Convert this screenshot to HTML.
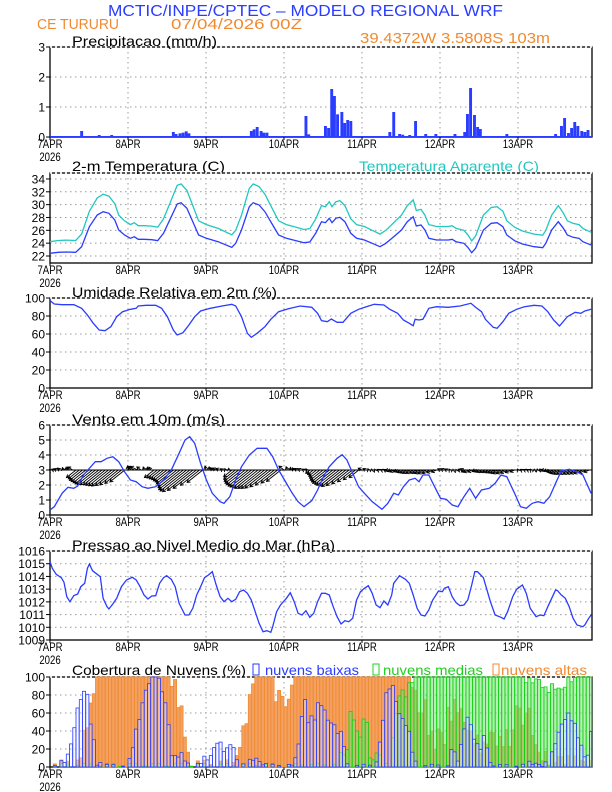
<!DOCTYPE html>
<html><head><meta charset="utf-8"><style>
body{margin:0;background:#fff;}
svg{display:block;font-family:"Liberation Sans",sans-serif;}
</style></head><body>
<svg id="s" width="612" height="792" viewBox="0 0 612 792" xmlns="http://www.w3.org/2000/svg">
<text x="108" y="16" font-size="16" fill="#2a3cff" textLength="395" lengthAdjust="spacingAndGlyphs">MCTIC/INPE/CPTEC – MODELO REGIONAL WRF</text>
<text x="37" y="29" font-size="15" fill="#f08a30" textLength="82" lengthAdjust="spacingAndGlyphs">CE TURURU</text>
<text x="171" y="29" font-size="15" fill="#f08a30" textLength="131" lengthAdjust="spacingAndGlyphs">07/04/2026 00Z</text>
<text x="360" y="43" font-size="15" fill="#f08a30" textLength="190" lengthAdjust="spacingAndGlyphs">39.4372W 3.5808S 103m</text>
<text x="72" y="46" font-size="14" textLength="145" lengthAdjust="spacingAndGlyphs">Precipitacao (mm/h)</text>
<text x="72" y="171" font-size="14" textLength="153" lengthAdjust="spacingAndGlyphs">2-m Temperatura (C)</text>
<text x="359" y="171" font-size="14" fill="#20c8c0" textLength="180" lengthAdjust="spacingAndGlyphs">Temperatura Aparente (C)</text>
<text x="72" y="297" font-size="14" textLength="205" lengthAdjust="spacingAndGlyphs">Umidade Relativa em 2m (%)</text>
<text x="72" y="424" font-size="14" textLength="153" lengthAdjust="spacingAndGlyphs">Vento em 10m (m/s)</text>
<text x="72" y="550" font-size="14" textLength="263" lengthAdjust="spacingAndGlyphs">Pressao ao Nivel Medio do Mar (hPa)</text>
<text x="72" y="675" font-size="14" textLength="174" lengthAdjust="spacingAndGlyphs">Cobertura de Nuvens (%)</text>
<rect x="253" y="664" width="6" height="11" fill="none" stroke="#2a3cff"/>
<text x="265" y="675" font-size="14" fill="#2a3cff" textLength="94" lengthAdjust="spacingAndGlyphs">nuvens baixas</text>
<rect x="373" y="664" width="6" height="11" fill="none" stroke="#20d020"/>
<text x="383" y="675" font-size="14" fill="#20d020" textLength="100" lengthAdjust="spacingAndGlyphs">nuvens medias</text>
<rect x="493" y="664" width="6" height="11" fill="none" stroke="#f08a30"/>
<text x="501" y="675" font-size="14" fill="#f08a30" textLength="86" lengthAdjust="spacingAndGlyphs">nuvens altas</text>
<g id="g"></g>
</svg>
<script>
var NS="http://www.w3.org/2000/svg",G=document.getElementById('g');
function el(t,a,txt){var e=document.createElementNS(NS,t);for(var k in a)e.setAttribute(k,a[k]);if(txt!=null)e.textContent=txt;G.appendChild(e);return e;}
var L=50,R=592,D=78;
function X(xz){return 50+(xz-129)*0.3901;}
function XZ(x){return 129+(x-50)/0.3901;}
function interp(p,x){if(x<=p[0][0])return p[0][1];for(var i=1;i<p.length;i++){if(x<=p[i][0]){var a=p[i-1],b=p[i];return a[1]+(b[1]-a[1])*(x-a[0])/(b[0]-a[0]);}}return p[p.length-1][1];}
var days=["7APR","8APR","9APR","10APR","11APR","12APR","13APR"];
function sx(x,y){return 'translate('+x+','+y+') scale(0.8,1) translate('+(-x)+','+(-y)+')';}
function panel(top,bot,ticks,vmin,vmax){
  for(var d=1;d<7;d++){var x=L+d*D;el('line',{x1:x,y1:top,x2:x,y2:bot,stroke:'#999','stroke-dasharray':'1.5,3.5','stroke-width':1});}
  ticks.forEach(function(t){var y=bot-(t-vmin)/(vmax-vmin)*(bot-top);
    if(y>top+1&&y<bot-1)el('line',{x1:L,y1:y,x2:R,y2:y,stroke:'#999','stroke-dasharray':'1.5,3.5','stroke-width':1});
    el('line',{x1:L-4,y1:y,x2:L,y2:y,stroke:'#000'});
    el('text',{x:L-5,y:y+4.5,'font-size':12,'text-anchor':'end'},String(t));});
  el('rect',{x:L,y:top,width:R-L,height:bot-top,fill:'none',stroke:'#000','stroke-width':1.3});
  el('line',{x1:L,y1:top,x2:R,y2:top,stroke:'#fff','stroke-dasharray':'2,3','stroke-width':1.4});
  for(var d=0;d<7;d++){var x=L+d*D;el('line',{x1:x,y1:bot,x2:x,y2:bot+3,stroke:'#000'});
    el('text',{x:x,y:bot+11,'font-size':12,'text-anchor':'middle',transform:sx(x,bot+11)},days[d]);}
  el('text',{x:L,y:bot+24,'font-size':12,'text-anchor':'middle',transform:sx(L,bot+24)},"2026");
}
function line(pts,off,col){var s=pts.map(function(p){return X(p[0]).toFixed(1)+','+(p[1]/3+off).toFixed(1);}).join(' ');el('polyline',{points:s,fill:'none',stroke:col,'stroke-width':1.3});}
// PRECIP
panel(47,137,[0,1,2,3],0,3);
var pr=[[210,393],[255,405],[287,405],[445,396],[452,402],[462,400],[470,398],[478,394],[485,400],[645,393],[652,388],[660,381],[670,393],[677,398],[685,398],[785,348],[792,403],[835,378],[843,384],[851,267],[858,288],[866,343],[877,336],[884,369],[892,360],[900,363],[1000,396],[1010,336],[1025,402],[1033,404],[1051,405],[1066,363],[1092,402],[1118,402],[1167,402],[1192,396],[1199,342],[1207,264],[1217,345],[1225,381],[1232,387],[1300,402],[1425,402],[1440,378],[1448,354],[1458,399],[1466,384],[1474,366],[1482,378],[1492,393],[1500,396],[1508,390]];
pr.forEach(function(b){var y=b[1]/3;el('rect',{x:X(b[0])-1.4,y:y,width:2.9,height:137-y,fill:'#2a3cff'});});
el('line',{x1:L,y1:136.5,x2:R,y2:136.5,stroke:'#2a3cff','stroke-width':1});
// TEMP
panel(173,263,[22,24,26,28,30,32,34],22-7/6.42,22+(256-173)/6.42);
var T=[[129,760],[150,757],[170,756],[195,757],[210,740],[230,680],[250,645],[265,635],[280,640],[295,660],[305,690],[320,705],[335,715],[345,710],[355,718],[370,718],[390,719],[405,722],[420,700],[440,650],[455,612],[465,608],[480,625],[495,665],[510,705],[530,715],[560,725],[595,742],[605,730],[620,690],[640,620],[650,608],[665,615],[680,635],[700,675],[715,705],[735,715],[760,722],[780,728],[795,726],[810,700],[825,665],[835,668],[845,655],[852,668],[862,655],[872,652],[885,665],[900,700],[915,715],[935,720],[955,730],[975,740],[990,730],[1010,710],[1030,690],[1045,665],[1060,650],[1068,678],[1080,675],[1090,690],[1100,715],[1120,720],[1150,720],[1160,718],[1170,725],[1190,730],[1200,742],[1210,758],[1220,745],[1240,690],[1260,670],[1275,668],[1290,680],[1300,705],[1320,722],[1340,732],[1370,740],[1392,743],[1400,730],[1415,690],[1432,665],[1445,685],[1455,705],[1470,712],[1485,715],[1495,725],[1505,730],[1516,735]];
var TA=T.map(function(p){return [p[0],p[1]-(35+(760-p[1])*0.14)];});
line(TA,0,'#20c8c0');line(T,0,'#2a3cff');
// RH
panel(298,388,[0,20,40,60,80,100],0,100);
line([[129,62],[140,72],[160,74],[190,74],[210,85],[225,105],[240,130],[255,150],[270,152],[285,140],[300,110],[315,95],[335,88],[350,85],[355,78],[375,76],[400,76],[415,85],[430,110],[445,150],[455,165],[470,158],[485,135],[500,110],[515,93],[540,85],[570,78],[595,73],[605,78],[620,110],[635,160],[645,172],[660,160],[680,140],[695,118],[715,95],[740,86],[770,78],[800,82],[815,100],[825,122],[840,125],[850,117],[865,127],[880,127],[900,100],[920,88],[940,80],[960,73],[985,75],[1000,88],[1020,100],[1035,120],[1050,130],[1060,137],[1065,118],[1075,120],[1085,118],[1100,85],[1120,80],[1150,82],[1180,78],[1208,70],[1220,82],[1235,95],[1245,118],[1265,142],[1275,145],[1290,125],[1305,100],[1325,88],[1345,80],[1370,76],[1390,78],[1405,95],[1420,120],[1435,138],[1455,110],[1475,97],[1490,100],[1500,93],[1516,88]],280,'#2a3cff');
// WIND
panel(425,515,[0,1,2,3,4,5,6],0,6);
var W=[[129,690],[140,680],[160,640],[175,622],[190,625],[200,618],[215,585],[230,565],[245,545],[260,545],[275,535],[290,530],[305,545],[320,575],[335,600],[350,605],[365,620],[380,625],[400,620],[420,600],[440,570],[460,520],[475,480],[487,470],[500,490],[515,550],[530,600],[545,640],[565,665],[575,670],[590,650],[605,600],[620,560],[640,525],[660,505],[685,505],[700,530],[715,570],[730,600],[750,640],[765,665],[780,680],[800,662],[815,630],[830,590],[845,560],[865,535],[878,524],[890,540],[905,580],[920,620],[935,640],[955,665],[980,688],[995,670],[1010,640],[1022,645],[1035,620],[1050,600],[1065,595],[1075,605],[1085,585],[1100,585],[1115,620],[1130,655],[1145,658],[1160,675],[1175,680],[1190,650],[1205,625],[1220,655],[1235,630],[1255,625],[1270,610],[1285,585],[1300,590],[1320,640],[1335,680],[1350,685],[1365,670],[1380,665],[1395,670],[1410,650],[1425,610],[1440,572],[1460,568],[1480,575],[1495,585],[1516,640]];
var ar='';
for(var h=0;h<=166;h++){
  var x=L+h*D/24,sp=(703-interp(W,XZ(x)))/45;var day=h/24,ph=day-Math.floor(day);
  var dx,dy;
  if(ph>0.3&&ph<0.98){var k=day<4?7:4.5;dx=-0.75*sp*k;dy=0.6*sp*k*(day<4?1:0.5);}
  else{var k2=day<3.5?5:3.5;dx=-0.7*sp*k2*(0.5+0.5*Math.sin(h));dy=-0.55*sp*k2*0.6;}
  var x2=x+dx,y2=470+dy,len=Math.sqrt(dx*dx+dy*dy)||1,ux=dx/len,uy=dy/len;
  ar+='M'+x.toFixed(1)+' 470L'+x2.toFixed(1)+' '+y2.toFixed(1);
  var hx=x2-ux*3,hy=y2-uy*3;
  ar+='M'+(hx-uy*1.8).toFixed(1)+' '+(hy+ux*1.8).toFixed(1)+'L'+x2.toFixed(1)+' '+y2.toFixed(1)+'L'+(hx+uy*1.8).toFixed(1)+' '+(hy-ux*1.8).toFixed(1);
}
el('path',{d:ar,stroke:'#000','stroke-width':0.9,fill:'none'});
el('line',{x1:L,y1:470,x2:R,y2:470,stroke:'#000','stroke-width':1});
line(W,280,'#2a3cff');
// PRESSURE
panel(551,640,[1009,1010,1011,1012,1013,1014,1015,1016],1009,1016);
line([[129,95],[135,115],[145,133],[158,143],[165,157],[172,200],[180,215],[190,197],[200,192],[208,170],[218,160],[225,115],[230,102],[238,122],[250,133],[258,140],[265,205],[275,230],[280,237],[290,222],[300,205],[312,170],[325,150],[340,142],[350,150],[360,170],[370,195],[380,207],[390,198],[400,197],[410,160],[420,143],[428,137],[440,148],[450,170],[460,220],[475,255],[485,255],[495,235],[505,195],[515,170],[525,143],[535,135],[545,125],[555,165],[565,200],[575,215],[585,205],[595,215],[605,208],[615,185],[625,180],[635,190],[645,210],[655,245],[665,280],[675,305],[685,302],[695,307],[700,290],[710,245],[720,225],[735,205],[745,188],[755,215],[765,250],[775,255],[785,242],[795,262],[805,250],[815,215],[825,190],[835,190],[845,195],[855,230],[865,260],[875,282],[885,272],[895,275],[905,265],[915,210],[925,185],[935,175],[945,167],[955,190],[965,225],[975,233],[985,213],[995,225],[1005,195],[1010,160],[1025,137],[1040,148],[1050,160],[1060,195],[1070,235],[1080,255],[1090,258],[1100,240],[1110,210],[1125,183],[1135,185],[1140,175],[1150,170],[1160,200],[1170,218],[1180,227],[1190,225],[1200,210],[1210,165],[1218,125],[1225,125],[1233,135],[1240,143],[1248,175],[1258,215],[1270,255],[1285,262],[1293,267],[1302,245],[1315,200],[1325,178],[1340,165],[1350,190],[1360,235],[1375,260],[1385,255],[1395,257],[1405,230],[1415,205],[1425,180],[1430,182],[1440,195],[1450,205],[1460,230],[1470,265],[1480,285],[1495,290],[1500,285],[1510,265],[1516,255]],530,'#2a3cff');
// CLOUDS
panel(677,767,[0,20,40,60,80,100],0,100);
var BL=[[129,0],[150,0],[160,5],[175,12],[190,40],[200,65],[210,80],[220,82],[228,85],[235,30],[245,33],[250,0],[260,5],[270,0],[330,0],[340,22],[350,40],[360,58],[370,78],[380,92],[390,100],[400,100],[410,95],[420,80],[430,60],[440,15],[450,10],[460,15],[470,12],[480,5],[490,0],[500,0],[510,2],[518,8],[530,10],[540,10],[548,20],[558,28],[565,26],[575,20],[585,18],[592,28],[600,20],[610,5],[620,0],[640,5],[650,10],[660,8],[670,5],[680,2],[700,0],[740,0],[750,5],[760,8],[770,40],[782,78],[792,48],[800,55],[810,55],[818,72],[828,70],[838,53],[845,52],[855,47],[862,42],[870,38],[880,35],[890,2],[900,0],[960,0],[970,10],[980,45],[990,78],[1000,90],[1010,88],[1020,65],[1030,53],[1040,50],[1048,40],[1055,25],[1065,5],[1075,0],[1150,0],[1160,28],[1170,5],[1180,15],[1190,42],[1200,56],[1210,43],[1220,27],[1230,18],[1240,34],[1250,22],[1260,0],[1340,0],[1350,3],[1370,5],[1380,2],[1400,3],[1410,2],[1420,22],[1430,35],[1440,46],[1450,55],[1460,58],[1470,52],[1480,38],[1490,25],[1500,10],[1508,15],[1516,37]];
var OR=[[129,0],[195,0],[205,10],[215,30],[225,52],[238,72],[245,100],[430,100],[440,95],[450,90],[460,70],[470,55],[480,20],[490,0],[580,0],[600,2],[610,15],[625,40],[635,60],[645,80],[650,100],[700,100],[705,85],[710,75],[720,85],[730,72],[740,65],[750,100],[1050,100],[1060,95],[1070,70],[1080,55],[1090,75],[1100,40],[1110,30],[1120,25],[1130,50],[1140,20],[1150,65],[1160,55],[1170,75],[1180,60],[1190,55],[1200,40],[1220,30],[1240,20],[1260,40],[1280,25],[1300,35],[1310,25],[1320,50],[1330,85],[1340,35],[1350,70],[1360,55],[1370,30],[1380,15],[1400,10],[1420,10],[1440,10],[1460,5],[1500,5],[1516,0]];
var GR=[[129,0],[860,0],[870,5],[880,20],[890,10],[900,65],[910,50],[920,30],[930,45],[940,60],[950,5],[960,10],[970,20],[980,0],[1000,0],[1020,75],[1030,85],[1040,80],[1050,90],[1060,100],[1340,100],[1360,95],[1380,98],[1400,85],[1420,90],[1440,85],[1460,98],[1480,100],[1516,100]];
function bars(P,fill,stroke,jit){
  for(var h=0;h<167;h++){var x=L+h*D/24,v=interp(P,XZ(x+1.6));
    if(jit&&v<99)v=Math.max(0,Math.min(100,v+jit*Math.sin(h*2.7)));
    if(v<0.5)continue;var hh=v*0.9;var w=Math.min(3.1,R-x-0.3);if(w<0.5)continue;
    el('rect',{x:x.toFixed(1),y:(767-hh).toFixed(1),width:w.toFixed(1),height:hh.toFixed(1),fill:fill,stroke:stroke,'stroke-width':0.8});}
}
bars(OR,'#f4a060','#f08a30',8);
bars(GR,'rgba(120,230,120,0.55)','#10d010',4);
bars(BL,'rgba(235,240,255,0.35)','#2a3cff',3);
</script>
</body></html>
